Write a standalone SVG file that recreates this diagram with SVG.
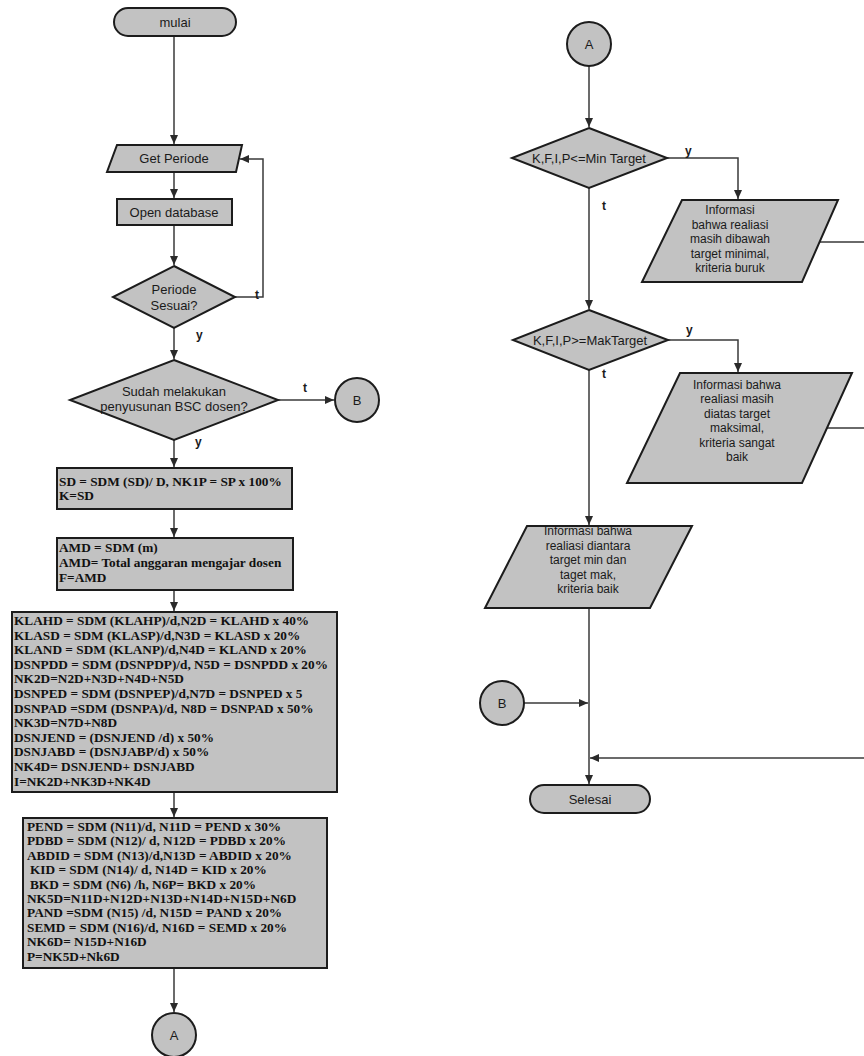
<svg xmlns="http://www.w3.org/2000/svg" width="864" height="1056" viewBox="0 0 864 1056">
<style>
.shape{fill:#c2c2c2;stroke:#1c1c1c;stroke-width:2}
.lbl{font-family:"Liberation Sans",Arial,sans-serif;font-size:13px;fill:#1a1a1a;text-anchor:middle}
.info{font-family:"Liberation Sans",Arial,sans-serif;font-size:12px;fill:#1a1a1a;text-anchor:middle}
.yt{font-family:"Liberation Sans",Arial,sans-serif;font-size:12px;font-weight:bold;fill:#1a1a1a}
.code{font-family:"Liberation Serif","Times New Roman",serif;font-size:13.3px;font-weight:bold;fill:#111}
.conn{fill:none;stroke:#3a3a3a;stroke-width:1.5}
</style>
<defs>
<marker id="arr" markerWidth="10" markerHeight="10" refX="9" refY="5" orient="auto" markerUnits="userSpaceOnUse">
<path d="M0,1 L9,5 L0,9 Z" fill="#2a2a2a"/>
</marker>
</defs>
<rect width="864" height="1056" fill="#ffffff"/>

<g id="connectors">
<path class="conn" d="M174,36 V144" marker-end="url(#arr)"/>
<path class="conn" d="M174,172 V198" marker-end="url(#arr)"/>
<path class="conn" d="M174,225 V265" marker-end="url(#arr)"/>
<path class="conn" d="M235,297 H263 V159 H240" marker-end="url(#arr)"/>
<path class="conn" d="M174,328 V359" marker-end="url(#arr)"/>
<path class="conn" d="M278,400 H334" marker-end="url(#arr)"/>
<path class="conn" d="M174,440 V467" marker-end="url(#arr)"/>
<path class="conn" d="M174,509 V537" marker-end="url(#arr)"/>
<path class="conn" d="M174,590 V611" marker-end="url(#arr)"/>
<path class="conn" d="M174,792 V817" marker-end="url(#arr)"/>
<path class="conn" d="M174,968 V1012" marker-end="url(#arr)"/>
<path class="conn" d="M589,66 V127" marker-end="url(#arr)"/>
<path class="conn" d="M667,158 H738 V199" marker-end="url(#arr)"/>
<path class="conn" d="M589,188 V309" marker-end="url(#arr)"/>
<path class="conn" d="M668,340 H738 V372" marker-end="url(#arr)"/>
<path class="conn" d="M589,370 V525" marker-end="url(#arr)"/>
<path class="conn" d="M589,608 V784" marker-end="url(#arr)"/>
<path class="conn" d="M524,703 H588" marker-end="url(#arr)"/>
<path class="conn" d="M820,242 H870 M827,428 H870 M870,242 V758"/>
<path class="conn" d="M870,758 H590" marker-end="url(#arr)"/>
<text class="yt" x="255" y="299">t</text>
<text class="yt" x="196" y="339">y</text>
<text class="yt" x="303" y="392">t</text>
<text class="yt" x="195" y="446">y</text>
<text class="yt" x="685" y="155">y</text>
<text class="yt" x="602" y="210">t</text>
<text class="yt" x="686" y="334">y</text>
<text class="yt" x="602" y="378">t</text>
</g>

<g id="mulai">
<rect class="shape" x="114" y="8" width="122" height="28" rx="14"/>
<text class="lbl" x="175" y="27">mulai</text>
</g>
<g id="get-periode">
<polygon class="shape" points="117,145 242,145 236,172 107,172"/>
<text class="lbl" x="174" y="163">Get Periode</text>
</g>
<g id="open-database">
<rect class="shape" x="117" y="199" width="115" height="26"/>
<text class="lbl" x="174" y="217">Open database</text>
</g>
<g id="periode-sesuai">
<polygon class="shape" points="174,266 235,297 174,328 113,297"/>
<text class="lbl" x="174" y="294">Periode</text>
<text class="lbl" x="174" y="310">Sesuai?</text>
</g>
<g id="sudah-bsc">
<polygon class="shape" points="174,360 278,400 174,440 70,400"/>
<text class="lbl" x="174" y="396">Sudah melakukan</text>
<text class="lbl" x="174" y="411">penyusunan BSC dosen?</text>
</g>
<g id="connector-b-left">
<circle class="shape" cx="357" cy="400" r="22"/>
<text class="lbl" x="357" y="405">B</text>
</g>
<g id="box-sd">
<rect class="shape" x="57" y="468" width="235" height="41"/>
<text class="code" x="59" y="486">SD = SDM (SD)/ D, NK1P = SP x 100%</text>
<text class="code" x="59" y="500">K=SD</text>
</g>
<g id="box-amd">
<rect class="shape" x="57" y="538" width="236" height="52"/>
<text class="code" x="59" y="552">AMD = SDM (m)</text>
<text class="code" x="59" y="567">AMD= Total anggaran mengajar dosen</text>
<text class="code" x="59" y="582">F=AMD</text>
</g>
<g id="box-klahd">
<rect class="shape" x="12" y="612" width="325" height="180"/>
<text class="code" x="14" y="625">KLAHD = SDM (KLAHP)/d,N2D = KLAHD x 40%</text>
<text class="code" x="14" y="639.6">KLASD =   SDM (KLASP)/d,N3D = KLASD x 20%</text>
<text class="code" x="14" y="654.2">KLAND = SDM (KLANP)/d,N4D = KLAND x 20%</text>
<text class="code" x="14" y="668.8">DSNPDD = SDM (DSNPDP)/d, N5D = DSNPDD x 20%</text>
<text class="code" x="14" y="683.4">NK2D=N2D+N3D+N4D+N5D</text>
<text class="code" x="14" y="698">DSNPED = SDM (DSNPEP)/d,N7D = DSNPED x 5</text>
<text class="code" x="14" y="712.6">DSNPAD =SDM (DSNPA)/d, N8D = DSNPAD x 50%</text>
<text class="code" x="14" y="727.2">NK3D=N7D+N8D</text>
<text class="code" x="14" y="741.8">DSNJEND = (DSNJEND /d) x 50%</text>
<text class="code" x="14" y="756.4">DSNJABD = (DSNJABP/d) x 50%</text>
<text class="code" x="14" y="771">NK4D= DSNJEND+ DSNJABD</text>
<text class="code" x="14" y="785.6">I=NK2D+NK3D+NK4D</text>
</g>
<g id="box-pend">
<rect class="shape" x="23" y="818" width="304" height="150"/>
<text class="code" x="27" y="831">PEND = SDM (N11)/d, N11D = PEND x 30%</text>
<text class="code" x="27" y="845.4">PDBD = SDM (N12)/ d, N12D = PDBD x 20%</text>
<text class="code" x="27" y="859.8">ABDID = SDM (N13)/d,N13D = ABDID x 20%</text>
<text class="code" x="30" y="874.2">KID = SDM (N14)/ d, N14D = KID x 20%</text>
<text class="code" x="30" y="888.6">BKD = SDM (N6) /h, N6P= BKD x 20%</text>
<text class="code" x="27" y="903">NK5D=N11D+N12D+N13D+N14D+N15D+N6D</text>
<text class="code" x="27" y="917.4">PAND =SDM (N15) /d, N15D = PAND x 20%</text>
<text class="code" x="27" y="931.8">SEMD = SDM (N16)/d, N16D = SEMD x 20%</text>
<text class="code" x="27" y="946.2">NK6D= N15D+N16D</text>
<text class="code" x="27" y="960.6">P=NK5D+Nk6D</text>
</g>
<g id="connector-a-left">
<circle class="shape" cx="174" cy="1035" r="22"/>
<text class="lbl" x="174" y="1040">A</text>
</g>

<g id="connector-a-right">
<circle class="shape" cx="589" cy="44" r="22"/>
<text class="lbl" x="589" y="49">A</text>
</g>
<g id="min-target">
<polygon class="shape" points="589,128 667,158 589,188 512,158"/>
<text class="lbl" x="589" y="163">K,F,I,P&lt;=Min Target</text>
</g>
<g id="info-buruk">
<polygon class="shape" points="682,200 838,200 802,282 642,282"/>
<text class="info" x="730" y="214">Informasi</text>
<text class="info" x="730" y="228.5">bahwa realiasi</text>
<text class="info" x="730" y="243">masih dibawah</text>
<text class="info" x="730" y="257.5">target minimal,</text>
<text class="info" x="730" y="272">kriteria buruk</text>
</g>
<g id="mak-target">
<polygon class="shape" points="589,310 668,340 589,370 513,340"/>
<text class="lbl" x="590" y="345">K,F,I,P&gt;=MakTarget</text>
</g>
<g id="info-sangat-baik">
<polygon class="shape" points="680,373 852,373 802,483 627,483"/>
<text class="info" x="737" y="389">Informasi bahwa</text>
<text class="info" x="737" y="403.4">realiasi masih</text>
<text class="info" x="737" y="417.8">diatas target</text>
<text class="info" x="737" y="432.2">maksimal,</text>
<text class="info" x="737" y="446.6">kriteria sangat</text>
<text class="info" x="737" y="461">baik</text>
</g>
<g id="info-baik">
<polygon class="shape" points="527,526 692,526 650,608 485,608"/>
<text class="info" x="588" y="535">Informasi bahwa</text>
<text class="info" x="588" y="549.5">realiasi diantara</text>
<text class="info" x="588" y="564">target min dan</text>
<text class="info" x="588" y="578.5">taget mak,</text>
<text class="info" x="588" y="593">kriteria baik</text>
</g>
<g id="connector-b-right">
<circle class="shape" cx="502" cy="703" r="22"/>
<text class="lbl" x="502" y="708">B</text>
</g>
<g id="selesai">
<rect class="shape" x="530" y="785" width="120" height="28" rx="14"/>
<text class="lbl" x="590" y="804">Selesai</text>
</g>
</svg>
